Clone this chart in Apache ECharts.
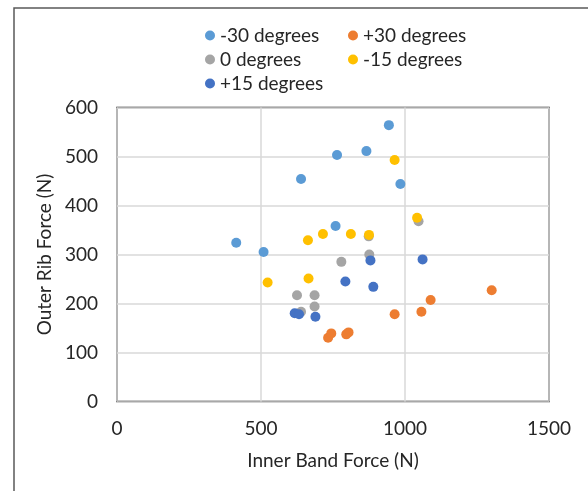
<!DOCTYPE html>
<html>
<head>
<meta charset="utf-8">
<script src="https://cdn.jsdelivr.net/npm/echarts@6/dist/echarts.min.js"></script>
<style>
  html, body { margin: 0; padding: 0; background: #fff; }
  #chart { width: 588px; height: 491px; }
</style>
</head>
<body>
<div id="chart"></div>
<script>
// series names in legend order
const seriesNames = ['-30 degrees', '+30 degrees', '0 degrees', '-15 degrees', '+15 degrees']
const seriesColors = ['#5B9BD5', '#ED7D31', '#A5A5A5', '#FFC000', '#4472C4']

// inner band force (x) / outer rib force (y)
const minus30X = [414, 509, 639, 759, 764, 866, 944, 984]
const minus30Y = [324, 305, 454, 358, 503, 511, 564, 444]

const plus30X = [733, 744, 796, 804, 964, 1057, 1089, 1301]
const plus30Y = [130, 139, 137, 141, 178, 183, 207, 227]

const zeroX = [625, 686, 686, 639, 779, 876, 874, 1047]
const zeroY = [217, 217, 194, 183, 285, 300, 337, 368]

const minus15X = [523, 663, 665, 715, 812, 875, 964, 1042]
const minus15Y = [243, 329, 251, 342, 342, 340, 493, 375]

const plus15X = [617, 632, 689, 793, 880, 890, 1061]
const plus15Y = [180, 178, 173, 245, 288, 234, 290]

const xTicks = [0, 500, 1000, 1500]
const yTicks = [0, 100, 200, 300, 400, 500, 600]

const seriesX = [minus30X, plus30X, zeroX, minus15X, plus15X]
const seriesY = [minus30Y, plus30Y, zeroY, minus15Y, plus15Y]

const textColor = '#262626'
const fontFamily = 'Lato, "Noto Sans", sans-serif'
const fontSize = 19

const chart = echarts.init(document.getElementById('chart'))

const legendBase = {
  orient: 'vertical',
  top: 21,
  itemGap: 5,
  itemWidth: 10,
  itemHeight: 10,
  icon: 'circle',
  textStyle: { color: textColor, fontSize: fontSize, fontFamily: fontFamily }
}

const option = {
  animation: false,
  textStyle: { fontFamily: fontFamily },
  graphic: [
    {
      type: 'rect',
      shape: { x: 14, y: 8, width: 620, height: 520 },
      style: { fill: 'none', stroke: '#595959', lineWidth: 1.5 },
      silent: true
    }
  ],
  legend: [
    Object.assign({}, legendBase, {
      data: [seriesNames[0], seriesNames[2], seriesNames[4]],
      left: 200
    }),
    Object.assign({}, legendBase, {
      data: [seriesNames[1], seriesNames[3]],
      left: 343
    })
  ],
  grid: {
    left: 117,
    top: 107.5,
    right: 39,
    bottom: 89.5,
    show: true,
    borderColor: '#1a1a1a',
    borderWidth: 1.5,
    containLabel: false
  },
  xAxis: {
    type: 'value',
    min: xTicks[0],
    max: xTicks[xTicks.length - 1],
    interval: 500,
    name: 'Inner Band Force (N)',
    nameLocation: 'middle',
    nameGap: 50,
    nameTextStyle: { color: textColor, fontSize: fontSize },
    axisLine: { show: false },
    axisTick: { show: false },
    axisLabel: { color: textColor, fontSize: fontSize, margin: 18, formatter: v => String(v) },
    splitLine: { lineStyle: { color: '#d9d9d9', width: 1.5 } }
  },
  yAxis: {
    type: 'value',
    min: yTicks[0],
    max: yTicks[yTicks.length - 1],
    interval: 100,
    name: 'Outer Rib Force (N)',
    nameLocation: 'middle',
    nameGap: 57,
    nameTextStyle: { color: textColor, fontSize: fontSize },
    axisLine: { show: false },
    axisTick: { show: false },
    axisLabel: { color: textColor, fontSize: fontSize, margin: 19, formatter: v => String(v) },
    splitLine: { lineStyle: { color: '#d9d9d9', width: 1.5 } }
  },
  series: seriesNames.map((name, i) => ({
    name: name,
    type: 'scatter',
    symbol: 'circle',
    symbolSize: 10,
    itemStyle: { color: seriesColors[i], opacity: 1 },
    data: seriesX[i].map((x, j) => [x, seriesY[i][j]])
  }))
}

chart.setOption(option)
</script>
</body>
</html>
